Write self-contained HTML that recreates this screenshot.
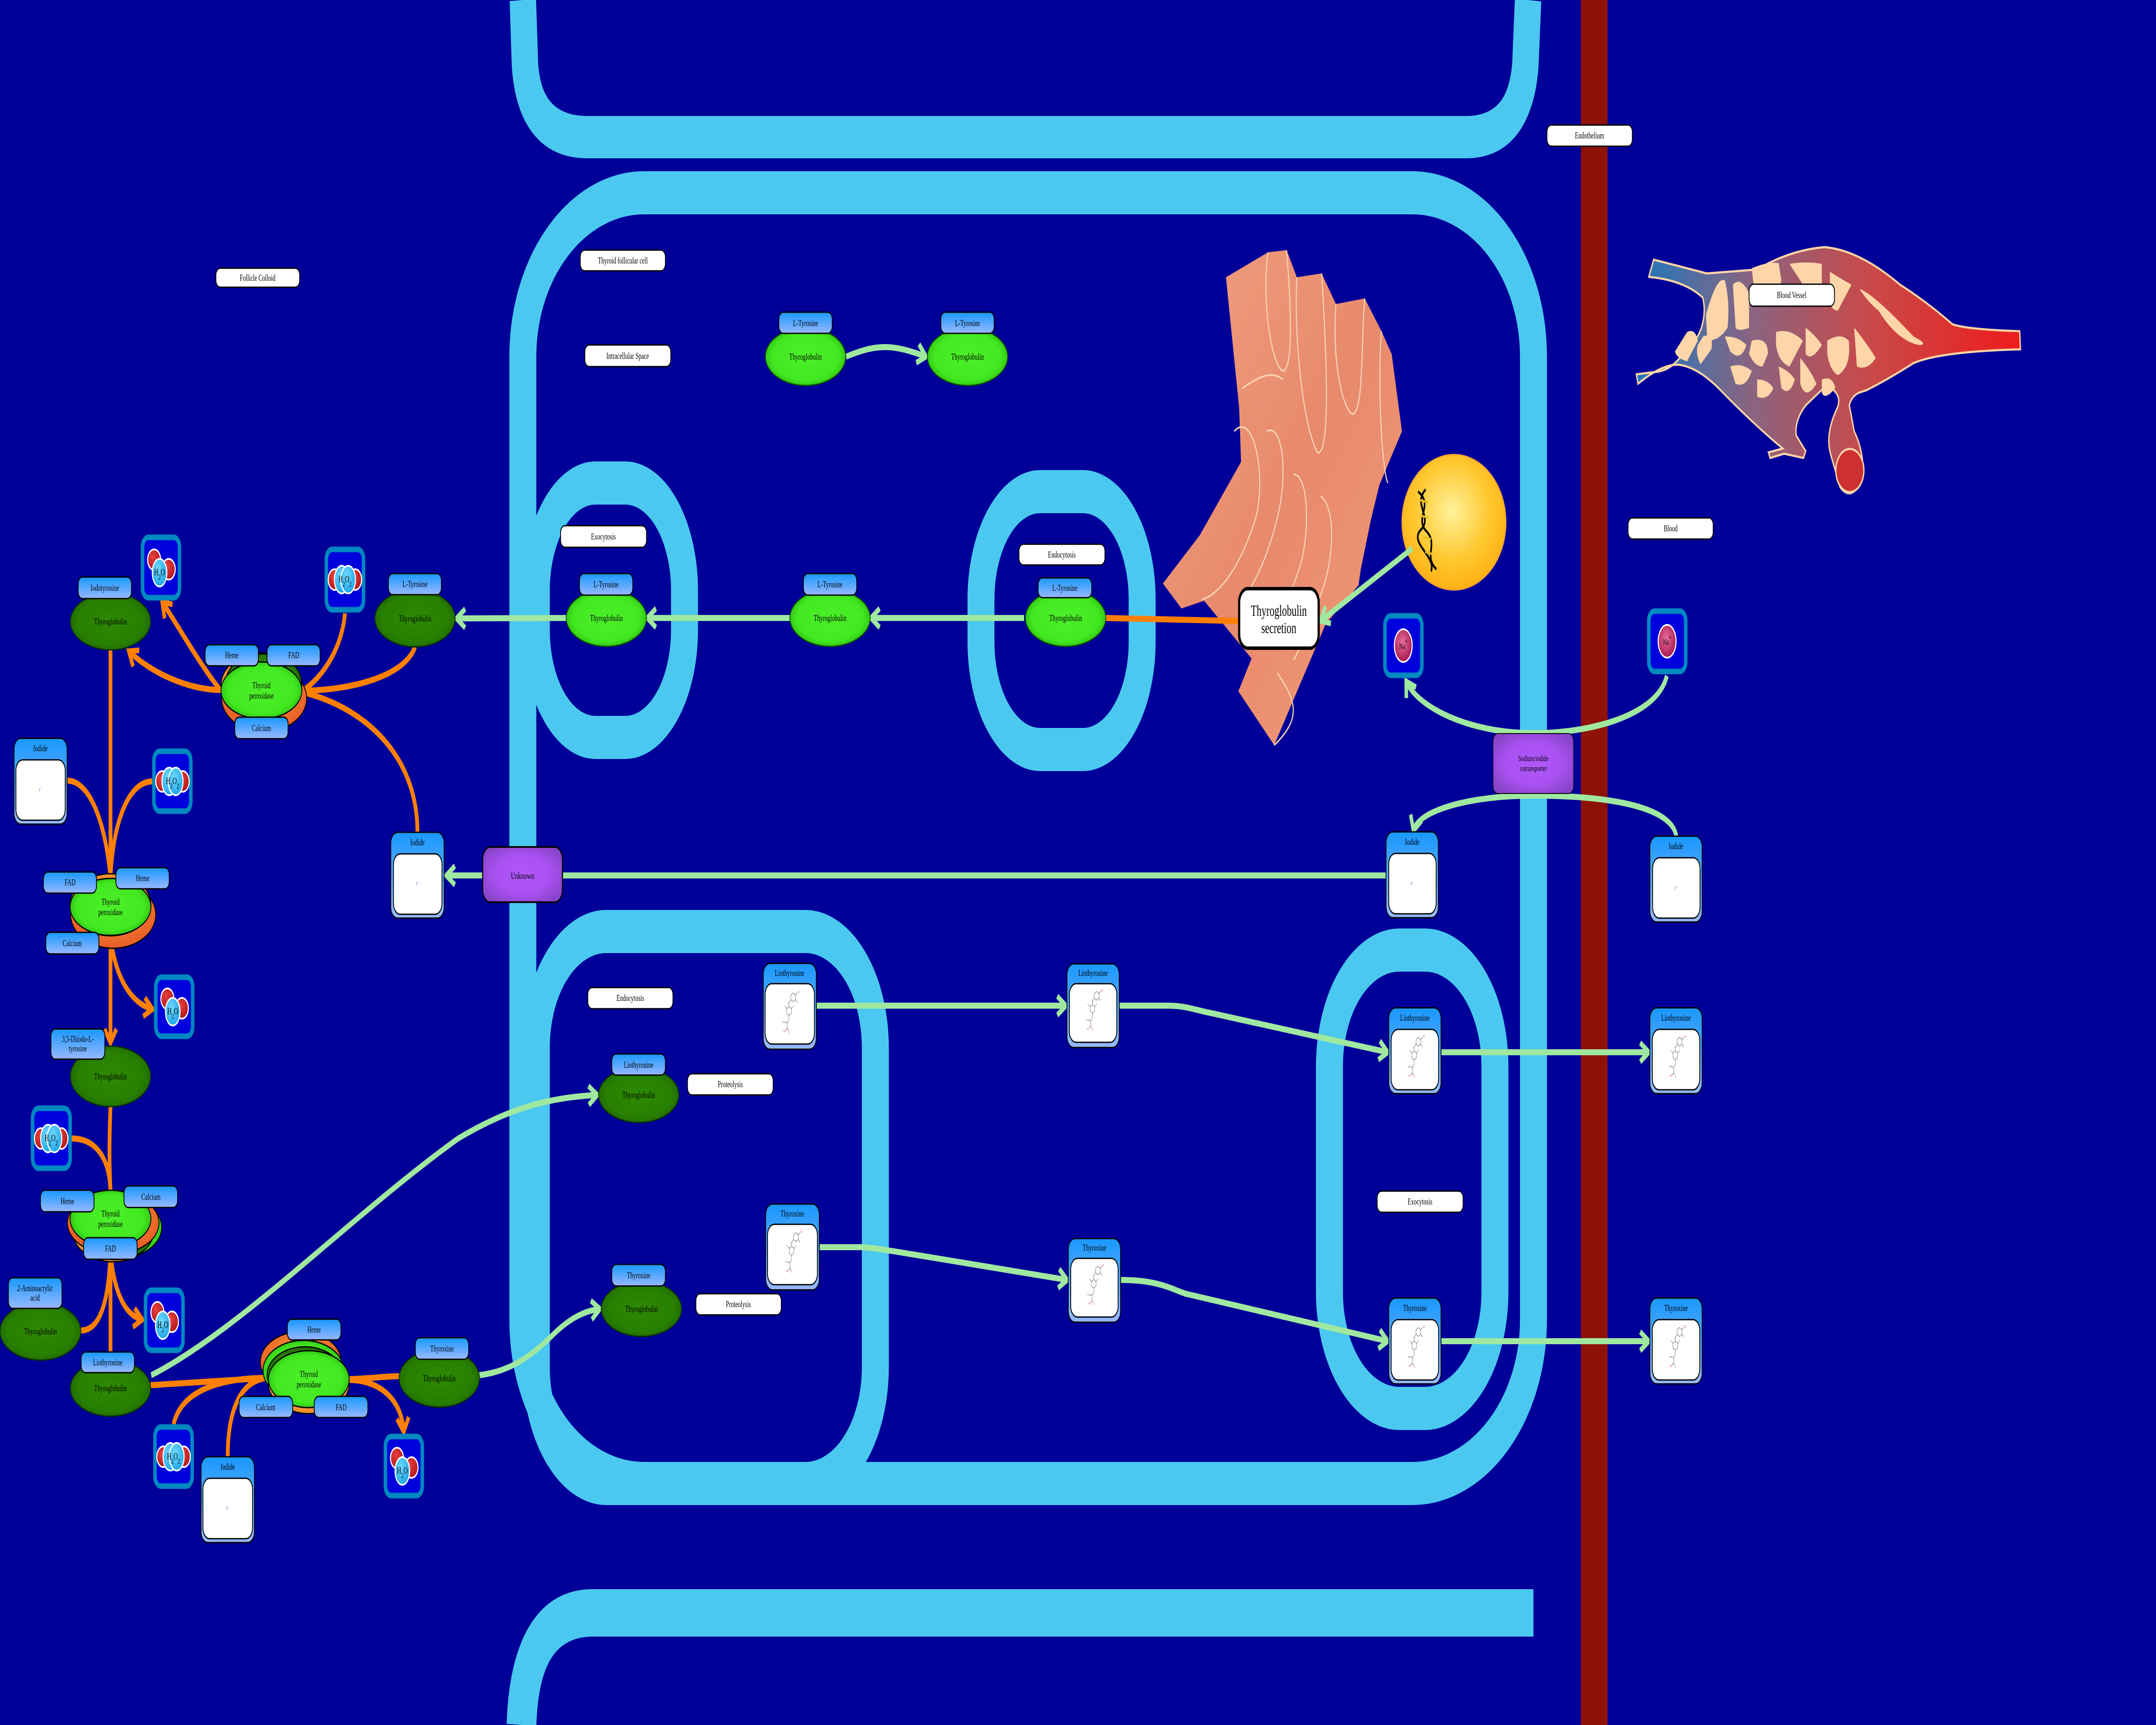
<!DOCTYPE html>
<html><head><meta charset="utf-8"><style>
html,body{margin:0;padding:0;background:#000099;width:100%;height:100%;overflow:hidden;}
svg{display:block;width:100%;height:100%;}
text{font-family:"Liberation Serif",serif;}
</style></head><body>
<svg width="100%" height="100%" viewBox="0 0 8000 4000" preserveAspectRatio="none" xmlns="http://www.w3.org/2000/svg">
<defs>
<radialGradient id="gB" cx="50%" cy="50%" r="55%"><stop offset="0" stop-color="#4cf02a"/><stop offset="0.75" stop-color="#42e820"/><stop offset="1" stop-color="#2cb810"/></radialGradient>
<radialGradient id="gD" cx="50%" cy="50%" r="55%"><stop offset="0" stop-color="#2e8a02"/><stop offset="0.75" stop-color="#287f00"/><stop offset="1" stop-color="#1e6400"/></radialGradient>
<radialGradient id="gO" cx="50%" cy="40%" r="60%"><stop offset="0" stop-color="#f8a030"/><stop offset="1" stop-color="#e85a28"/></radialGradient>
<linearGradient id="gL" x1="0" y1="0" x2="0" y2="1"><stop offset="0" stop-color="#1898ff"/><stop offset="1" stop-color="#98b8ff"/></linearGradient>
<radialGradient id="gP" cx="50%" cy="50%" r="60%"><stop offset="0" stop-color="#b058fa"/><stop offset="0.6" stop-color="#a850f0"/><stop offset="1" stop-color="#8844c8"/></radialGradient>
<radialGradient id="gN" cx="48%" cy="42%" r="60%"><stop offset="0" stop-color="#fff29a"/><stop offset="0.6" stop-color="#ffc830"/><stop offset="1" stop-color="#ffae10"/></radialGradient>
<radialGradient id="gW" cx="40%" cy="35%" r="65%"><stop offset="0" stop-color="#70d8ff"/><stop offset="1" stop-color="#20a8e8"/></radialGradient>
<radialGradient id="gR" cx="40%" cy="35%" r="65%"><stop offset="0" stop-color="#e84040"/><stop offset="1" stop-color="#b01818"/></radialGradient>
<radialGradient id="gNa" cx="45%" cy="40%" r="60%"><stop offset="0" stop-color="#e8709a"/><stop offset="1" stop-color="#a81850"/></radialGradient>
<linearGradient id="gV" x1="0" y1="0" x2="1" y2="0"><stop offset="0" stop-color="#1c78c0"/><stop offset="0.3" stop-color="#8a6480"/><stop offset="0.6" stop-color="#c84a4a"/><stop offset="1" stop-color="#ee1c1c"/></linearGradient>
<linearGradient id="gG" x1="0" y1="0" x2="1" y2="1"><stop offset="0" stop-color="#f0a080"/><stop offset="0.5" stop-color="#e88a6c"/><stop offset="1" stop-color="#f09a78"/></linearGradient>
<marker id="aG" markerUnits="userSpaceOnUse" markerWidth="60" markerHeight="60" refX="42" refY="30" orient="auto"><path d="M10,8 L42,30 L10,52" fill="none" stroke="#a0e8a0" stroke-width="13"/></marker>
<marker id="aO" markerUnits="userSpaceOnUse" markerWidth="60" markerHeight="60" refX="42" refY="30" orient="auto"><path d="M10,8 L42,30 L10,52" fill="none" stroke="#ff8000" stroke-width="13"/></marker>
<symbol id="mol" viewBox="0 0 100 160">
<g fill="none" stroke="#555" stroke-width="1.3">
<path d="M55,20 L65,14 L75,20 L75,32 L65,38 L55,32 Z"/><path d="M75,20 L83,14"/><path d="M75,32 L82,38"/>
<path d="M55,32 L47,40"/><path d="M47,40 L47,50"/>
<path d="M37,56 L47,50 L57,56 L57,68 L47,74 L37,68 Z"/><path d="M37,56 L30,50"/><path d="M57,56 L64,50"/>
<path d="M47,74 L47,86 L40,94 L40,108 L46,116"/><path d="M40,94 L30,92"/><path d="M40,108 L32,114"/>
</g>
<g font-size="6" font-family="Liberation Sans,sans-serif"><text x="84" y="14" fill="#e00">OH</text><text x="44" y="43" fill="#e00">O</text><text x="80" y="42" fill="#80c">I</text><text x="26" y="50" fill="#80c">I</text><text x="64" y="50" fill="#80c">I</text><text x="20" y="94" fill="#339">H₂N</text><text x="24" y="118" fill="#e00">HO</text><text x="46" y="121" fill="#e00">O</text></g>
</symbol>
</defs>

<rect width="8000" height="4000" fill="#000099"/>

<path d="M1940,0 L1948,150 Q1965,318 2180,318 L5440,318 Q5640,318 5660,150 L5670,0" fill="none" stroke="#4bc8f0" stroke-width="98"/>
<path d="M1935,4000 Q1948,3740 2200,3740 L5690,3740" fill="none" stroke="#4bc8f0" stroke-width="110"/>
<rect x="1940" y="447" width="3750" height="2993" rx="450" ry="380" fill="none" stroke="#4bc8f0" stroke-width="100"/>
<rect x="1990" y="1120" width="550" height="590" rx="220" ry="250" fill="none" stroke="#4bc8f0" stroke-width="100"/>
<rect x="3640" y="1140" width="598" height="598" rx="220" ry="250" fill="none" stroke="#4bc8f0" stroke-width="100"/>
<rect x="1990" y="2160" width="1258" height="1280" rx="260" ry="270" fill="none" stroke="#4bc8f0" stroke-width="100"/>
<rect x="4933" y="2203" width="614" height="1063" rx="260" ry="270" fill="none" stroke="#4bc8f0" stroke-width="100"/>
<rect x="5866" y="0" width="99" height="4000" fill="#8e1208"/>

<path d="M4549,643 L4705,585 L4774,580 L4812,643 L4904,634 L4957,705 L5064,692 L5126,768 L5164,821 L5202,1000 L5118,1125 L5087,1205 L5049,1321 L5041,1357 L4919,1447 L4728,1728 L4595,1603 L4644,1527 L4468,1393 L4384,1411 L4315,1353 L4452,1241 L4605,1071 L4598,946 Z" fill="url(#gG)"/>
<g fill="none" stroke="#f8d4b4" stroke-width="4">
<path d="M4705,585 C4680,700 4720,850 4760,860 C4800,860 4790,700 4774,580"/>
<path d="M4812,643 C4800,800 4840,1000 4890,1050 C4940,1050 4920,800 4904,634"/>
<path d="M4957,705 C4940,850 4990,960 5020,960 C5060,950 5050,800 5064,692"/>
<path d="M5126,768 C5110,900 5130,1100 5150,1120"/>
<path d="M4580,1000 C4650,950 4700,1100 4660,1200 C4600,1320 4520,1380 4460,1390"/>
<path d="M4700,1000 C4760,980 4780,1100 4740,1200 C4700,1300 4650,1360 4600,1400"/>
<path d="M4800,1100 C4860,1100 4860,1250 4820,1320 C4790,1380 4760,1400 4740,1440"/>
<path d="M4900,1150 C4960,1180 4950,1300 4900,1380 C4860,1440 4830,1500 4800,1530"/>
<path d="M4610,900 C4680,870 4720,860 4760,880"/>
<path d="M4740,1560 C4800,1620 4840,1660 4728,1728"/>
</g>

<ellipse cx="5395" cy="1211" rx="193" ry="157" fill="url(#gN)" stroke="#ffa030" stroke-width="3"/>
<g fill="none" stroke-width="6">
<path d="M5262,1140 C5320,1170 5250,1200 5290,1230 C5340,1260 5280,1290 5330,1320" stroke="#000"/>
<path d="M5290,1135 C5240,1170 5320,1200 5270,1230 C5230,1260 5330,1290 5310,1325" stroke="#000"/>
<path d="M5270,1160 L5300,1165 M5268,1195 L5298,1200 M5282,1245 L5310,1250 M5288,1280 L5318,1285" stroke="#e8c020" stroke-width="5"/>
</g>

<path d="M6136,602 L6118,642 Q6250,650 6318,690 Q6332,725 6312,762 Q6290,800 6230,832 Q6195,858 6150,862 L6072,868 L6078,890 Q6170,842 6232,846 Q6300,852 6380,902 Q6500,980 6615,1040 L6562,1049 L6568,1062 L6620,1052 L6692,1062 L6700,1046 L6665,1010 Q6658,975 6700,940 L6780,892 L6805,905 Q6832,922 6818,945 Q6772,1005 6792,1052 L6828,1130 Q6866,1162 6905,1120 Q6926,1060 6880,1000 L6862,940 Q6870,918 6900,910 L6925,905 Q7005,880 7100,842 Q7200,815 7497,810 L7494,768 Q7300,764 7245,752 Q7150,700 7050,660 Q6900,580 6770,573 Q6640,580 6520,625 L6333,634 Z" fill="url(#gV)" stroke="#ffd4a4" stroke-width="5"/>
<g fill="#fdd5a8">
<path d="M6330,730 Q6370,640 6400,650 Q6420,700 6410,760 Q6380,790 6335,790 Z"/>
<path d="M6430,660 Q6460,640 6490,680 L6490,760 Q6450,770 6440,760 Z"/>
<path d="M6500,622 Q6560,606 6600,610 L6610,650 Q6600,680 6560,680 Q6510,680 6505,650 Z"/>
<path d="M6640,612 Q6700,605 6760,612 L6760,660 Q6740,680 6690,660 Z"/>
<path d="M6790,630 Q6840,650 6870,660 L6820,720 Q6790,720 6790,690 Z"/>
<path d="M6900,670 Q6950,680 7100,780 Q7160,800 7120,800 Q7040,790 6970,720 Q6930,700 6900,670 Z"/>
<path d="M6260,770 Q6290,760 6300,790 L6260,838 Q6220,830 6215,815 Z"/>
<path d="M6320,780 Q6360,770 6350,810 L6310,845 Q6290,820 6300,800 Z"/>
<path d="M6400,780 Q6450,780 6480,800 Q6460,840 6420,815 Z"/>
<path d="M6500,790 Q6560,780 6560,820 L6540,850 Q6510,850 6490,820 Z"/>
<path d="M6590,770 Q6640,760 6690,790 L6640,850 Q6600,840 6590,800 Z"/>
<path d="M6700,760 Q6740,780 6760,800 Q6720,840 6700,820 Z"/>
<path d="M6780,790 Q6830,770 6860,790 Q6870,850 6820,870 Q6790,860 6780,820 Z"/>
<path d="M6880,760 Q6920,790 6960,830 Q6930,860 6890,850 Z"/>
<path d="M6420,850 Q6460,840 6500,860 Q6480,900 6440,890 Z"/>
<path d="M6520,880 Q6560,880 6580,900 Q6560,930 6520,920 Z"/>
<path d="M6600,850 Q6640,860 6660,880 Q6640,920 6610,900 Z"/>
<path d="M6680,830 Q6720,860 6740,890 Q6700,930 6680,890 Z"/>
<path d="M6760,880 Q6800,870 6810,900 Q6770,930 6760,910 Z"/>
</g>
<ellipse cx="6864" cy="1091" rx="52" ry="50" fill="#cc3030" stroke="#ffd4a4" stroke-width="5"/>

<g fill="none" stroke="#a0e8a0" stroke-width="14">
<path d="M3140,827 C3260,795 3320,800 3436,827" marker-end="url(#aG)"/>
<path d="M3800,1433 L3232,1433" marker-end="url(#aG)"/>
<path d="M2101,1433 L1694,1434" marker-end="url(#aG)"/>
<path d="M2931,1433 L2402,1433" marker-end="url(#aG)"/>
<path d="M6185,1567 C6150,1660 5900,1700 5690,1700 C5450,1700 5260,1640 5218,1580" marker-end="url(#aG)"/>
<path d="M6220,1939 C6200,1860 5900,1845 5690,1845 C5450,1845 5260,1880 5245,1926" marker-end="url(#aG)"/>
<path d="M5143,2030 L1656,2030" marker-end="url(#aG)"/>
<path d="M5240,1272 L4900,1440" marker-end="url(#aG)"/>
<path d="M3030,2332 L3955,2332" marker-end="url(#aG)"/>
<path d="M4153,2332 L4330,2332 C4400,2332 4420,2340 4500,2350 L5149,2440" marker-end="url(#aG)"/>
<path d="M5347,2440 L6118,2440" marker-end="url(#aG)"/>
<path d="M3040,2892 L3200,2892 C3260,2895 3300,2900 3400,2910 L3960,2968" marker-end="url(#aG)"/>
<path d="M4158,2968 C4300,2968 4350,2990 4400,3000 L5149,3110" marker-end="url(#aG)"/>
<path d="M5347,3110 L6118,3110" marker-end="url(#aG)"/>
<path d="M561,3189 C900,3080 1300,2820 1700,2640 C1900,2565 2050,2545 2216,2539" marker-end="url(#aG)"/>
<path d="M1776,3189 C1900,3180 1980,3140 2060,3090 C2120,3055 2170,3040 2226,3035" marker-end="url(#aG)"/>
</g>

<g fill="none" stroke="#ff8000" stroke-width="14">
<path d="M4100,1433 L4596,1440"/>
<path d="M820,1600 C700,1600 560,1560 478,1510" marker-end="url(#aO)"/>
<path d="M820,1602 C740,1540 650,1440 602,1396" marker-end="url(#aO)"/>
<path d="M1280,1422 C1270,1500 1200,1570 1122,1602"/>
<path d="M1540,1500 C1500,1570 1300,1600 1122,1602"/>
<path d="M1549,1930 C1549,1750 1350,1640 1122,1605"/>
<path d="M410,1507 L410,2035"/>
<path d="M249,1810 C330,1810 390,1900 410,2035"/>
<path d="M565,1812 C480,1812 420,1900 410,2035"/>
<path d="M410,2172 L410,2418" marker-end="url(#aO)"/>
<path d="M410,2172 C430,2280 500,2330 566,2340" marker-end="url(#aO)"/>
<path d="M410,2565 C405,2650 405,2700 410,2760"/>
<path d="M266,2640 C350,2640 405,2680 410,2760"/>
<path d="M410,2900 L410,3135"/>
<path d="M301,3085 C380,3085 405,3000 410,2900"/>
<path d="M410,2900 C420,2990 460,3050 528,3060" marker-end="url(#aO)"/>
<path d="M559,3212 L995,3195"/>
<path d="M644,3303 C670,3230 800,3195 995,3195"/>
<path d="M845,3378 C845,3260 900,3200 995,3195"/>
<path d="M1296,3198 C1380,3196 1420,3192 1481,3191"/>
<path d="M1296,3200 C1400,3200 1490,3240 1498,3320" marker-end="url(#aO)"/>
</g>

<g stroke="#000" stroke-width="3" fill="#fff">
<rect x="801" y="622" width="311" height="44" rx="16"/>
<rect x="2153" y="580" width="316" height="48" rx="16"/>
<rect x="2170" y="800" width="319" height="50" rx="16"/>
<rect x="2080" y="1219" width="319" height="50" rx="16"/>
<rect x="3781" y="1262" width="319" height="48" rx="16"/>
<rect x="5740" y="290" width="317" height="49" rx="16"/>
<rect x="6490" y="659" width="317" height="51" rx="16"/>
<rect x="6041" y="1201" width="316" height="49" rx="16"/>
<rect x="2181" y="2290" width="316" height="49" rx="16"/>
<rect x="2551" y="2490" width="318" height="49" rx="16"/>
<rect x="2582" y="3000" width="317" height="49" rx="16"/>
<rect x="5110" y="2762" width="319" height="49" rx="16"/>
</g>
<g font-size="21" text-anchor="middle" fill="#000">
<text x="956" y="651">Follicle Colloid</text>
<text x="2311" y="611">Thyroid follicular cell</text>
<text x="2329" y="832">Intracellular Space</text>
<text x="2239" y="1251">Exocytosis</text>
<text x="3940" y="1293">Endocytosis</text>
<text x="5898" y="321">Endothelium</text>
<text x="6648" y="691">Blood Vessel</text>
<text x="6199" y="1232">Blood</text>
<text x="2339" y="2321">Endocytosis</text>
<text x="2710" y="2521">Proteolysis</text>
<text x="2740" y="3031">Proteolysis</text>
<text x="5269" y="2793">Exocytosis</text>
</g>

<rect x="4598" y="1365" width="295" height="138" rx="32" fill="#fff" stroke="#000" stroke-width="8"/>
<text x="4745" y="1428" font-size="36" text-anchor="middle">Thyroglobulin</text>
<text x="4745" y="1468" font-size="36" text-anchor="middle">secretion</text>

<rect x="1791" y="1964" width="296" height="128" rx="28" fill="url(#gP)" stroke="#000" stroke-width="4"/>
<text x="1939" y="2038" font-size="22" text-anchor="middle">Unknown</text>
<rect x="5540" y="1701" width="299" height="139" rx="18" fill="url(#gP)" stroke="#000" stroke-width="2"/>
<text x="5690" y="1765" font-size="19" text-anchor="middle">Sodium/iodide</text>
<text x="5690" y="1788" font-size="19" text-anchor="middle">cotransporter</text>

<g stroke="#0a5000" stroke-width="3" fill="url(#gB)">
<ellipse cx="2989" cy="827" rx="149" ry="67"/>
<ellipse cx="3590" cy="827" rx="149" ry="67"/>
<ellipse cx="2250" cy="1433" rx="149" ry="66"/>
<ellipse cx="3080" cy="1433" rx="149" ry="66"/>
<ellipse cx="3954" cy="1433" rx="149" ry="66"/>
</g>
<g stroke="#0a3000" stroke-width="3" fill="url(#gD)">
<ellipse cx="410" cy="1441" rx="149" ry="66"/>
<ellipse cx="1540" cy="1434" rx="149" ry="66"/>
<ellipse cx="410" cy="2496" rx="149" ry="70"/>
<ellipse cx="150" cy="3087" rx="150" ry="67"/>
<ellipse cx="410" cy="3219" rx="149" ry="65"/>
<ellipse cx="1630" cy="3196" rx="149" ry="67"/>
<ellipse cx="2370" cy="2539" rx="149" ry="64"/>
<ellipse cx="2380" cy="3035" rx="149" ry="64"/>
</g>

<g stroke="#000" stroke-width="3">
<g transform="translate(970,1601)"><ellipse cx="10" cy="18" rx="158" ry="78" fill="url(#gO)"/><ellipse cx="0" cy="-12" rx="150" ry="75" fill="#f09030"/><ellipse cx="8" cy="-20" rx="140" ry="65" fill="url(#gD)"/><ellipse cx="0" cy="0" rx="150" ry="66" fill="url(#gB)"/></g>
<g transform="translate(410,2103)"><ellipse cx="10" cy="18" rx="158" ry="78" fill="url(#gO)"/><ellipse cx="0" cy="-5" rx="150" ry="72" fill="#f09030"/><ellipse cx="0" cy="0" rx="150" ry="66" fill="url(#gB)"/></g>
<g transform="translate(410,2826)"><ellipse cx="10" cy="30" rx="150" ry="70" fill="#f09030"/><ellipse cx="40" cy="20" rx="150" ry="70" fill="url(#gB)"/><ellipse cx="20" cy="30" rx="140" ry="65" fill="url(#gD)"/><ellipse cx="10" cy="10" rx="170" ry="72" fill="url(#gO)"/><ellipse cx="0" cy="0" rx="150" ry="66" fill="url(#gB)"/></g>
<g transform="translate(1146,3198)"><ellipse cx="-30" cy="-40" rx="150" ry="70" fill="url(#gO)"/><ellipse cx="-20" cy="-20" rx="150" ry="70" fill="url(#gB)"/><ellipse cx="-15" cy="-10" rx="140" ry="65" fill="url(#gD)"/><ellipse cx="0" cy="10" rx="150" ry="70" fill="#f09030"/><ellipse cx="0" cy="0" rx="150" ry="66" fill="url(#gB)"/></g>
</g>

<g font-size="21" text-anchor="middle" fill="#000">
<text x="2989" y="834">Thyroglobulin</text>
<text x="3590" y="834">Thyroglobulin</text>
<text x="2250" y="1440">Thyroglobulin</text>
<text x="3080" y="1440">Thyroglobulin</text>
<text x="3954" y="1440">Thyroglobulin</text>
<text x="410" y="1448">Thyroglobulin</text>
<text x="1540" y="1441">Thyroglobulin</text>
<text x="410" y="2503">Thyroglobulin</text>
<text x="150" y="3094">Thyroglobulin</text>
<text x="410" y="3226">Thyroglobulin</text>
<text x="1630" y="3203">Thyroglobulin</text>
<text x="2370" y="2546">Thyroglobulin</text>
<text x="2380" y="3042">Thyroglobulin</text>
<text x="970" y="1596">Thyroid</text><text x="970" y="1620">peroxidase</text>
<text x="410" y="2098">Thyroid</text><text x="410" y="2122">peroxidase</text>
<text x="410" y="2821">Thyroid</text><text x="410" y="2845">peroxidase</text>
<text x="1146" y="3193">Thyroid</text><text x="1146" y="3217">peroxidase</text>
</g>

<g stroke="#000" stroke-width="3" fill="url(#gL)">
<rect x="2890" y="724" width="198" height="49" rx="16"/>
<rect x="3491" y="724" width="198" height="49" rx="16"/>
<rect x="2150" y="1330" width="198" height="50" rx="16"/>
<rect x="2981" y="1330" width="198" height="50" rx="16"/>
<rect x="3852" y="1340" width="199" height="46" rx="16"/>
<rect x="290" y="1338" width="198" height="50" rx="16"/>
<rect x="1441" y="1330" width="197" height="49" rx="16"/>
<rect x="761" y="1495" width="198" height="49" rx="16"/>
<rect x="991" y="1495" width="197" height="49" rx="16"/>
<rect x="871" y="1663" width="198" height="50" rx="16"/>
<rect x="161" y="2022" width="197" height="49" rx="16"/>
<rect x="430" y="2012" width="198" height="49" rx="16"/>
<rect x="170" y="2162" width="197" height="50" rx="16"/>
<rect x="189" y="2386" width="200" height="70" rx="16"/>
<rect x="150" y="2760" width="199" height="50" rx="16"/>
<rect x="460" y="2750" width="199" height="50" rx="16"/>
<rect x="310" y="2870" width="199" height="50" rx="16"/>
<rect x="31" y="2963" width="199" height="71" rx="16"/>
<rect x="301" y="3135" width="198" height="48" rx="16"/>
<rect x="1066" y="3059" width="199" height="48" rx="16"/>
<rect x="887" y="3238" width="199" height="49" rx="16"/>
<rect x="1166" y="3238" width="199" height="49" rx="16"/>
<rect x="1541" y="3102" width="198" height="50" rx="16"/>
<rect x="2270" y="2444" width="199" height="49" rx="16"/>
<rect x="2270" y="2932" width="199" height="50" rx="16"/>
</g>
<g font-size="21" text-anchor="middle" fill="#000">
<text x="2989" y="756">L-Tyrosine</text>
<text x="3590" y="756">L-Tyrosine</text>
<text x="2249" y="1362">L-Tyrosine</text>
<text x="3080" y="1362">L-Tyrosine</text>
<text x="3951" y="1370">L-Tyrosine</text>
<text x="389" y="1370">Iodotyrosine</text>
<text x="1540" y="1361">L-Tyrosine</text>
<text x="860" y="1526">Heme</text>
<text x="1090" y="1526">FAD</text>
<text x="970" y="1695">Calcium</text>
<text x="260" y="2053">FAD</text>
<text x="529" y="2043">Heme</text>
<text x="268" y="2194">Calcium</text>
<text x="289" y="2416">3,5-Diiodo-L-</text>
<text x="289" y="2438">tyrosine</text>
<text x="250" y="2792">Heme</text>
<text x="560" y="2782">Calcium</text>
<text x="410" y="2902">FAD</text>
<text x="130" y="2994">2-Aminoacrylic</text>
<text x="130" y="3016">acid</text>
<text x="400" y="3166">Liothyronine</text>
<text x="1165" y="3090">Heme</text>
<text x="986" y="3270">Calcium</text>
<text x="1266" y="3270">FAD</text>
<text x="1640" y="3134">Thyroxine</text>
<text x="2370" y="2476">Liothyronine</text>
<text x="2370" y="2964">Thyroxine</text>
</g>

<g stroke="#000" stroke-width="3">
<g transform="translate(52,1712)"><rect width="197" height="199" rx="25" fill="url(#gL)"/><rect x="7" y="50" width="183" height="140" rx="25" fill="#fff"/></g>
<g transform="translate(1450,1930)"><rect width="198" height="199" rx="25" fill="url(#gL)"/><rect x="10" y="50" width="180" height="140" rx="25" fill="#fff"/></g>
<g transform="translate(5143,1929)"><rect width="194" height="199" rx="25" fill="url(#gL)"/><rect x="10" y="50" width="176" height="140" rx="25" fill="#fff"/></g>
<g transform="translate(6122,1939)"><rect width="194" height="199" rx="25" fill="url(#gL)"/><rect x="10" y="50" width="176" height="140" rx="25" fill="#fff"/></g>
<g transform="translate(746,3378)"><rect width="198" height="199" rx="25" fill="url(#gL)"/><rect x="7" y="50" width="184" height="140" rx="25" fill="#fff"/></g>
<g transform="translate(2832,2234)"><rect width="197" height="199" rx="25" fill="url(#gL)"/><rect x="7" y="47" width="183" height="140" rx="25" fill="#fff"/></g>
<g transform="translate(2841,2792)"><rect width="199" height="199" rx="25" fill="url(#gL)"/><rect x="7" y="47" width="185" height="140" rx="25" fill="#fff"/></g>
<g transform="translate(3959,2235)"><rect width="194" height="194" rx="25" fill="url(#gL)"/><rect x="9" y="46" width="176" height="136" rx="25" fill="#fff"/></g>
<g transform="translate(3964,2872)"><rect width="194" height="194" rx="25" fill="url(#gL)"/><rect x="9" y="46" width="176" height="136" rx="25" fill="#fff"/></g>
<g transform="translate(5153,2337)"><rect width="194" height="199" rx="25" fill="url(#gL)"/><rect x="9" y="50" width="176" height="140" rx="25" fill="#fff"/></g>
<g transform="translate(5153,3010)"><rect width="194" height="199" rx="25" fill="url(#gL)"/><rect x="9" y="50" width="176" height="140" rx="25" fill="#fff"/></g>
<g transform="translate(6122,2337)"><rect width="194" height="199" rx="25" fill="url(#gL)"/><rect x="9" y="50" width="176" height="140" rx="25" fill="#fff"/></g>
<g transform="translate(6122,3010)"><rect width="194" height="199" rx="25" fill="url(#gL)"/><rect x="9" y="50" width="176" height="140" rx="25" fill="#fff"/></g>
</g>
<use href="#mol" x="2880" y="2290" width="100" height="140"/>
<use href="#mol" x="2890" y="2846" width="100" height="140"/>
<use href="#mol" x="4006" y="2287" width="100" height="136"/>
<use href="#mol" x="4011" y="2924" width="100" height="136"/>
<use href="#mol" x="5200" y="2393" width="100" height="140"/>
<use href="#mol" x="5200" y="3066" width="100" height="140"/>
<use href="#mol" x="6169" y="2393" width="100" height="140"/>
<use href="#mol" x="6169" y="3066" width="100" height="140"/>
<g font-size="21" text-anchor="middle" fill="#000">
<text x="150" y="1742">Iodide</text>
<text x="1549" y="1960">Iodide</text>
<text x="5240" y="1959">Iodide</text>
<text x="6219" y="1969">Iodide</text>
<text x="845" y="3408">Iodide</text>
<text x="2930" y="2263">Liothyronine</text>
<text x="2940" y="2821">Thyroxine</text>
<text x="4056" y="2263">Liothyronine</text>
<text x="4061" y="2900">Thyroxine</text>
<text x="5250" y="2367">Liothyronine</text>
<text x="5250" y="3040">Thyroxine</text>
<text x="6219" y="2367">Liothyronine</text>
<text x="6219" y="3040">Thyroxine</text>
</g>
<g font-size="12" fill="#8020c0" text-anchor="middle">
<text x="150" y="1835">I⁻</text><text x="1549" y="2053">I⁻</text><text x="5240" y="2053">I⁻</text><text x="6219" y="2063">I⁻</text><text x="845" y="3502">I⁻</text>
</g>

<g fill="#0000dd" stroke="#0088c0" stroke-width="13">
<rect x="529" y="1246" width="137" height="140" rx="22"/>
<rect x="1211" y="1274" width="138" height="140" rx="22"/>
<rect x="571" y="1742" width="137" height="139" rx="22"/>
<rect x="578" y="2266" width="137" height="137" rx="22"/>
<rect x="121" y="2570" width="139" height="139" rx="22"/>
<rect x="540" y="2992" width="139" height="139" rx="22"/>
<rect x="575" y="3309" width="138" height="137" rx="22"/>
<rect x="1430" y="3331" width="137" height="137" rx="22"/>
<rect x="5139" y="1428" width="137" height="138" rx="22"/>
<rect x="6118" y="1417" width="137" height="140" rx="22"/>
</g>
<g stroke="#fff" stroke-width="4">
<g transform="translate(597,1316)"><circle cx="-25" cy="-18" r="24" fill="url(#gR)"/><circle cx="29" cy="4" r="24" fill="url(#gR)"/><ellipse cx="-5" cy="12" rx="27" ry="32" fill="url(#gW)"/></g>
<g transform="translate(646,2334)"><circle cx="-25" cy="-18" r="24" fill="url(#gR)"/><circle cx="29" cy="4" r="24" fill="url(#gR)"/><ellipse cx="-5" cy="12" rx="27" ry="32" fill="url(#gW)"/></g>
<g transform="translate(609,3061)"><circle cx="-25" cy="-18" r="24" fill="url(#gR)"/><circle cx="29" cy="4" r="24" fill="url(#gR)"/><ellipse cx="-5" cy="12" rx="27" ry="32" fill="url(#gW)"/></g>
<g transform="translate(1498,3399)"><circle cx="-25" cy="-18" r="24" fill="url(#gR)"/><circle cx="29" cy="4" r="24" fill="url(#gR)"/><ellipse cx="-5" cy="12" rx="27" ry="32" fill="url(#gW)"/></g>
<g transform="translate(1280,1344)"><circle cx="-38" cy="0" r="24" fill="url(#gR)"/><circle cx="38" cy="0" r="24" fill="url(#gR)"/><ellipse cx="-12" cy="0" rx="27" ry="32" fill="url(#gW)"/><ellipse cx="12" cy="0" rx="27" ry="32" fill="url(#gW)"/></g>
<g transform="translate(640,1812)"><circle cx="-38" cy="0" r="24" fill="url(#gR)"/><circle cx="38" cy="0" r="24" fill="url(#gR)"/><ellipse cx="-12" cy="0" rx="27" ry="32" fill="url(#gW)"/><ellipse cx="12" cy="0" rx="27" ry="32" fill="url(#gW)"/></g>
<g transform="translate(190,2640)"><circle cx="-38" cy="0" r="24" fill="url(#gR)"/><circle cx="38" cy="0" r="24" fill="url(#gR)"/><ellipse cx="-12" cy="0" rx="27" ry="32" fill="url(#gW)"/><ellipse cx="12" cy="0" rx="27" ry="32" fill="url(#gW)"/></g>
<g transform="translate(644,3378)"><circle cx="-38" cy="0" r="24" fill="url(#gR)"/><circle cx="38" cy="0" r="24" fill="url(#gR)"/><ellipse cx="-12" cy="0" rx="27" ry="32" fill="url(#gW)"/><ellipse cx="12" cy="0" rx="27" ry="32" fill="url(#gW)"/></g>
<ellipse cx="5207" cy="1497" rx="33" ry="38" fill="url(#gNa)"/>
<ellipse cx="6186" cy="1487" rx="33" ry="38" fill="url(#gNa)"/>
</g>
<g font-size="22" fill="#000" text-anchor="middle">
<text x="592" y="1334">H<tspan dy="10" font-size="17">2</tspan><tspan dy="-10">O</tspan></text>
<text x="641" y="2352">H<tspan dy="10" font-size="17">2</tspan><tspan dy="-10">O</tspan></text>
<text x="604" y="3079">H<tspan dy="10" font-size="17">2</tspan><tspan dy="-10">O</tspan></text>
<text x="1493" y="3417">H<tspan dy="10" font-size="17">2</tspan><tspan dy="-10">O</tspan></text>
<text x="1280" y="1350">H<tspan dy="10" font-size="17">2</tspan><tspan dy="-10">O</tspan><tspan dy="10" font-size="17">2</tspan></text>
<text x="640" y="1818">H<tspan dy="10" font-size="17">2</tspan><tspan dy="-10">O</tspan><tspan dy="10" font-size="17">2</tspan></text>
<text x="190" y="2646">H<tspan dy="10" font-size="17">2</tspan><tspan dy="-10">O</tspan><tspan dy="10" font-size="17">2</tspan></text>
<text x="644" y="3384">H<tspan dy="10" font-size="17">2</tspan><tspan dy="-10">O</tspan><tspan dy="10" font-size="17">2</tspan></text>
<text x="5207" y="1505" font-size="19">Na<tspan dy="-12" font-size="17">+</tspan></text>
<text x="6186" y="1495" font-size="19">Na<tspan dy="-12" font-size="17">+</tspan></text>
</g>
</svg>
</body></html>
